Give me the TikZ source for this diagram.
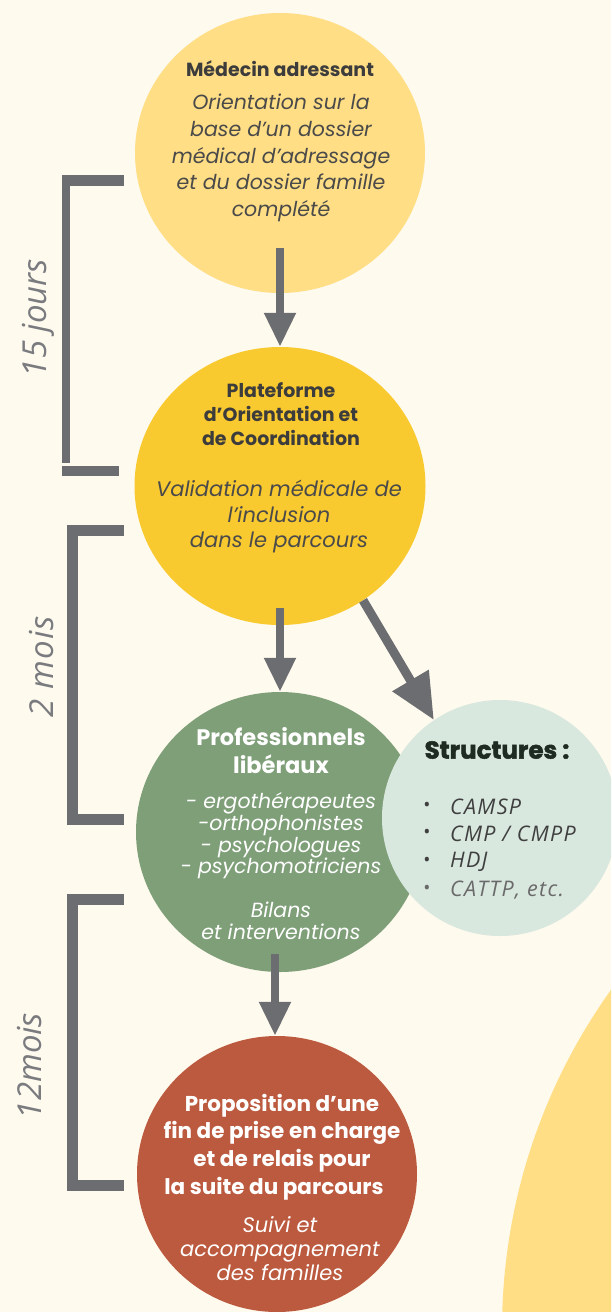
\documentclass[tikz,border=0pt]{standalone}
\usepackage{fontspec}
\setmainfont{Poppins}
\newfontfamily\osans{Open Sans}
\usetikzlibrary{arrows.meta,shapes.geometric}
\definecolor{bgc}{HTML}{FFFAEE}
\definecolor{ylight}{HTML}{FFDE85}
\definecolor{ydark}{HTML}{F9C930}
\definecolor{vgreen}{HTML}{7E9F78}
\definecolor{vlight}{HTML}{D9E8DF}
\definecolor{vred}{HTML}{BC5A3F}
\definecolor{grayc}{HTML}{6C6D71}
\definecolor{labc}{HTML}{7A7B7F}
\definecolor{txtc}{HTML}{4A4A4A}
\definecolor{ttlc}{HTML}{3C3C3C}
\definecolor{strc}{HTML}{1E2B20}
\definecolor{lstc}{HTML}{3F3F3F}
\definecolor{lstl}{HTML}{6A6A6A}
\begin{document}
\begin{tikzpicture}[x=1pt,y=-1pt,
  blob/.style={ellipse,inner sep=0pt,draw=none},
  arr/.style={draw=grayc,line width=8pt,-{Triangle[length=34pt,width=30pt]}},
  arrbig/.style={draw=grayc,line width=9pt,-{Triangle[length=46pt,width=40pt]}},
  brk/.style={fill=grayc},
  lab/.style={rotate=90,text=labc,font=\osans\itshape\fontsize{33}{36}\selectfont,inner sep=0pt},
  ttl/.style={align=center,inner sep=0pt,font=\bfseries\fontsize{19}{24}\selectfont},
  bod/.style={align=center,inner sep=0pt,font=\itshape\fontsize{20.5}{26.7}\selectfont},
  itm/.style={anchor=west,inner sep=0pt,font=\osans\itshape\fontsize{21.5}{24}\selectfont\addfontfeatures{LetterSpace=6}},
  bul/.style={inner sep=0pt,font=\osans\fontsize{19}{20}\selectfont}]
\useasboundingbox (0,0) rectangle (611,1312);
\clip (0,0) rectangle (611,1312);
\fill[bgc] (0,0) rectangle (611,1312);
\fill[ylight] (1087,1330) circle (585pt);
% circles
\node[blob,fill=ylight,minimum width=290pt,minimum height=280pt] (medecin) at (280,153) {};
\node[blob,fill=ydark,minimum width=291pt,minimum height=278pt] (poc) at (280,486) {};
\node[blob,fill=vgreen,minimum width=288pt,minimum height=280pt] (lib) at (280,832) {};
\node[circle,inner sep=0pt,fill=vlight,minimum size=236pt] (struct) at (500,818) {};
\node[blob,fill=vred,minimum width=280pt,minimum height=276pt] (fin) at (277,1174) {};
% arrows
\draw[arr] ([yshift=45pt]medecin.south) -- (poc.north);
\draw[arr] ([yshift=17pt]poc.south) -- (lib.north);
\draw[arrbig] (poc.-54) -- (struct.124);
\draw[arr] ([xshift=-5pt,yshift=18pt]lib.south) -- ([xshift=-2pt]fin.north);
% brackets
\fill[brk] (62,175) rectangle (124,186);
\fill[brk] (62,175) rectangle (70,463);
\fill[brk] (62,466) rectangle (119,476);
\fill[brk] (67,525) rectangle (124,536);
\fill[brk] (67,525) rectangle (78,825);
\fill[brk] (67,814) rectangle (124,825);
\fill[brk] (67,894) rectangle (124,905);
\fill[brk] (67,894) rectangle (78,1191);
\fill[brk] (67,1180) rectangle (124,1191);
\node[lab] (l15) at (38,318) {15 jours};
\node[lab,font=\osans\itshape\fontsize{33}{36}\selectfont\addfontfeatures{LetterSpace=4}] (l2) at (42,667) {2 mois};
\node[lab] (l12) at (30,1066) {12mois};
% texts
\node[ttl,text=ttlc] (t1) at (280,69) {Médecin adressant};
\node[bod,text=txtc] (b1) at (281,158) {Orientation sur la\\base d’un dossier\\médical d’adressage\\et du dossier famille\\complété};
\node[ttl,text=ttlc] (t2) at (281,414) {Plateforme\\d’Orientation et\\de Coordination};
\node[bod,text=txtc,font=\itshape\fontsize{21}{25.5}\selectfont] (b2) at (279,517) {Validation médicale de\\l'inclusion\\dans le parcours};
\node[ttl,text=white,font=\bfseries\fontsize{22.5}{28}\selectfont] (t3) at (281,751) {Professionnels\\libéraux};
\node[bod,text=white,font=\itshape\fontsize{20.5}{21.7}\selectfont] (b3) at (281,836) {- ergothérapeutes\\-orthophonistes\\- psychologues\\- psychomotriciens};
\node[bod,text=white,font=\itshape\fontsize{20.5}{22}\selectfont] (b3b) at (281,921) {Bilans\\et interventions};
\node[ttl,text=strc,font=\bfseries\fontsize{24.5}{26}\selectfont\addfontfeatures{FakeBold=2}] (t4) at (497,750) {Structures :};
\node[bul,text=lstc] (u1) at (427,807) {•};
\node[bul,text=lstc] (u2) at (427,834) {•};
\node[bul,text=lstc] (u3) at (427,862) {•};
\node[bul,text=lstl] (u4) at (427,890) {•};
\node[itm,text=lstc] (i1) at (450,807) {CAMSP};
\node[itm,text=lstc] (i2) at (450,834) {CMP / CMPP};
\node[itm,text=lstc] (i3) at (450,862) {HDJ};
\node[itm,text=lstl] (i4) at (450,890) {CATTP, etc.};
\node[ttl,text=white,font=\bfseries\fontsize{21.5}{27.7}\selectfont] (t5) at (282,1147) {Proposition d’une\\fin de prise en charge\\et de relais pour\\la suite du parcours\kern 16pt};
\node[bod,text=white,font=\itshape\fontsize{21}{24}\selectfont] (b5) at (280,1249) {Suivi et\\accompagnement\\des familles};
\end{tikzpicture}
\end{document}
